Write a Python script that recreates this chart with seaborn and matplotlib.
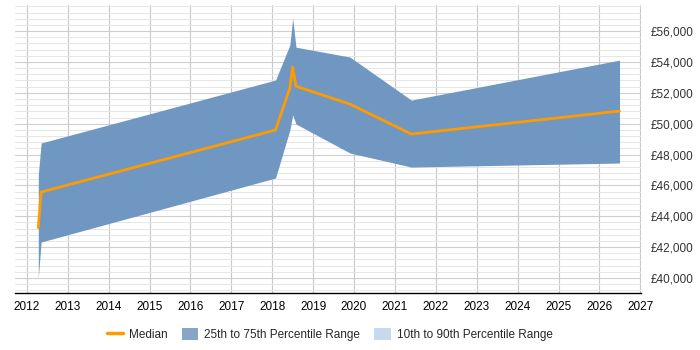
import numpy as np
import pandas as pd
import matplotlib
matplotlib.use("Agg")
import matplotlib.pyplot as plt
import seaborn as sns
from matplotlib.patches import Patch
from matplotlib.lines import Line2D
from matplotlib.ticker import MultipleLocator, FuncFormatter

# values
years = [2012.28, 2012.35, 2018.08, 2018.43, 2018.50, 2018.58, 2019.90, 2021.40, 2026.49]
median = [43260, 45570, 49590, 52310, 53670, 52430, 51270, 49330, 50820]
p25 = [40000, 42330, 46480, 49590, 50560, 49980, 48100, 47190, 47450]
p75 = [46700, 48750, 52830, 55100, 56840, 54960, 54320, 51530, 54120]

df = pd.DataFrame({"Year": years, "Median": median, "P25": p25, "P75": p75})

BAND = "#7097c2"
BAND_LIGHT = "#c6d9ee"
ORANGE = "#ff9b00"

sns.set_style("white")
plt.rcParams["font.family"] = ["Liberation Sans", "DejaVu Sans"]

fig = plt.figure(figsize=(7, 3.5), dpi=100)
ax = fig.add_axes([0.0214, 0.163, 0.894, 0.823])

ax.fill_between(df["Year"], df["P25"], df["P75"], color=BAND, linewidth=0, zorder=2)
sns.lineplot(data=df, x="Year", y="Median", color=ORANGE, linewidth=2, ax=ax, zorder=3)

ax.set_xlim(2011.71, 2027.01)
ax.set_ylim(39030, 57700)
ax.xaxis.set_major_locator(MultipleLocator(1))
ax.yaxis.set_major_locator(MultipleLocator(2000))
ax.yaxis.set_minor_locator(MultipleLocator(400))
ax.xaxis.set_major_formatter(FuncFormatter(lambda v, p: f"{int(round(v))}"))
ax.yaxis.set_major_formatter(FuncFormatter(lambda v, p: f"£{int(v):,}"))

ax.grid(which="major", axis="x", color="#c8c8c8", linewidth=0.8, zorder=0)
ax.grid(which="major", axis="y", color="#cfcfcf", linewidth=0.8, zorder=0)
ax.grid(which="minor", axis="y", color="#e6e6e6", linewidth=0.7, zorder=0)
ax.set_axisbelow(True)

ax.yaxis.tick_right()
ax.tick_params(axis="y", which="both", length=0, labelsize=8.5, colors="#333333", pad=7)
ax.tick_params(axis="x", length=4, width=0.8, direction="out", labelsize=8.5, colors="black", pad=2)

for s in ["top", "left", "right"]:
    ax.spines[s].set_visible(False)
ax.spines["bottom"].set_color("black")
ax.spines["bottom"].set_linewidth(1)

ax.set_xlabel("")
ax.set_ylabel("")

handles = [
    Line2D([0], [0], color=ORANGE, linewidth=2.5),
    Patch(facecolor="#87a5c6", edgecolor="none"),
    Patch(facecolor=BAND_LIGHT, edgecolor="none"),
]
labels = ["Median", "25th to 75th Percentile Range", "10th to 90th Percentile Range"]
fig.legend(handles, labels, loc="center", bbox_to_anchor=(0.471, 0.045), ncol=3,
           frameon=False, fontsize=8.5, handlelength=1.4, handleheight=1.3,
           columnspacing=1.2, handletextpad=0.5)

fig.savefig("out.png", dpi=100)
